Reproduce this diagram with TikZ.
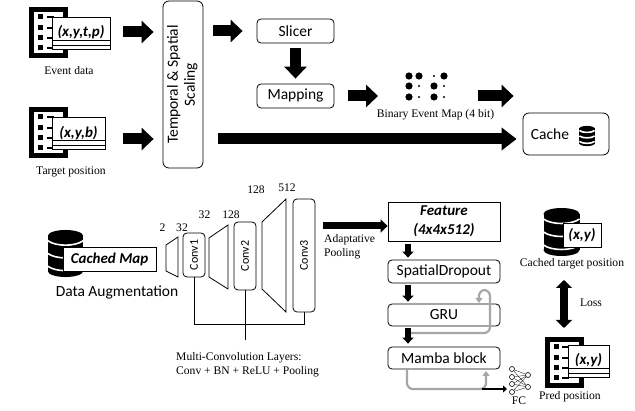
\documentclass[tikz,border=0pt]{standalone}
\usepackage{fontspec}
\setmainfont{Liberation Serif}
\newfontfamily\calibrifont{Carlito}
\usetikzlibrary{arrows.meta, calc}

\tikzset{
	softbox/.style={draw, rounded corners=4pt, line width=0.8pt, fill=white, inner sep=0pt, font=\calibrifont\fontsize{15.5}{17}\selectfont},
	convbox/.style={softbox, minimum width=22, font=\calibrifont\fontsize{12}{14}\selectfont},
	card/.style={draw, line width=0.8pt, fill=white, inner sep=0pt, font=\calibrifont\bfseries\itshape\fontsize{15}{17}\selectfont},
	caption/.style={inner sep=0pt, font=\fontsize{11.6}{14}\selectfont},
	bigarrow/.style={line width=11pt, -{Triangle[length=12pt,width=22pt]}},
	midarrow/.style={line width=7pt, -{Triangle[length=7pt,width=13pt]}},
	smallarrow/.style={line width=5.5pt, -{Triangle[length=6pt,width=11pt]}},
	grayarrow/.style={draw=black!35, line width=2.2pt, rounded corners=6pt, -{Triangle[length=5pt,width=7pt]}},
	fcdot/.style={circle, draw, fill=white, line width=0.6pt, minimum size=5, inner sep=0pt},
	docframe/.pic={
		\draw[line width=5pt] (-17,-23) rectangle (17,23);
		\foreach \y in {-16,-5,5,15} {
			\fill (-10.5,\y-2.5) rectangle (-5.5,\y+2.5);
			\fill (-2,\y-1) rectangle (5,\y+1);
		}
	},
	dbstack/.pic={
		\fill (-18,-18) rectangle (18,18);
		\fill (0,-18) ellipse (18 and 6);
		\fill (0,18) ellipse (18 and 6);
		\draw[white, line width=1.6pt] (-18,-13) .. controls (-10,-7) and (10,-7) .. (18,-13);
		\draw[white, line width=1.6pt] (-18,0) .. controls (-10,6) and (10,6) .. (18,0);
		\draw[white, line width=1.6pt] (-18,13) .. controls (-10,19) and (10,19) .. (18,13);
	}
}

\begin{document}
\begin{tikzpicture}[x=1pt, y=-1pt]

	\useasboundingbox (0,0) rectangle (635,411);

	% inputs
	\pic at (48.5,33) {docframe};
	\node[card, minimum width=58, minimum height=32] (eventcard) at (81,33) {\raisebox{4pt}{(x,y,t,p)}};
	\draw[line width=0.8pt] ($(eventcard.south west)+(0,-9)$) -- ($(eventcard.south east)+(0,-9)$);
	\draw[line width=0.8pt] ($(eventcard.south west)+(0,-4)$) -- ($(eventcard.south east)+(0,-4)$);
	\node[caption] (eventlabel) at (69,71) {Event data};

	\pic at (48.5,133) {docframe};
	\node[card, minimum width=53, minimum height=32] (targetcard) at (78.5,133.5) {\raisebox{4pt}{(x,y,b)}};
	\draw[line width=0.8pt] ($(targetcard.south west)+(0,-9)$) -- ($(targetcard.south east)+(0,-9)$);
	\draw[line width=0.8pt] ($(targetcard.south west)+(0,-4)$) -- ($(targetcard.south east)+(0,-4)$);
	\node[caption] (targetlabel) at (71,172) {Target position};

	% preprocessing
	\node[softbox, rounded corners=6pt, minimum width=40, minimum height=167] (scaling) at (183,84.5) {\rotatebox{90}{\begin{tabular}{@{}c@{}}Temporal \& Spatial\\Scaling\end{tabular}}};
	\node[softbox, minimum width=77, minimum height=24] (slicer) at (295.5,31) {Slicer};
	\node[softbox, minimum width=77, minimum height=24] (mapping) at (295.5,96) {Mapping};

	\foreach \x/\y in {409/76, 419/76, 444/76, 409/86, 434/86, 409/97, 434/97}
		\fill (\x,\y) circle (3.6);
	\foreach \x/\y in {434/76, 419/86, 444/86, 419/97, 444/97}
		\fill (\x,\y) circle (1.2);
	\coordinate (mapdots) at (426,96);
	\node[caption] (maplabel) at (435.5,115) {Binary Event Map (4 bit)};

	\node[softbox, rounded corners=6pt, minimum width=86, minimum height=42] (cache) at (566,134) {};
	\node[inner sep=0pt, font=\calibrifont\fontsize{15.5}{17}\selectfont] (cachetext) at (550,134) {Cache};
	\pic[scale=0.42] at (587,136) {dbstack};

	\draw[bigarrow, shorten <=13pt, shorten >=9pt] (eventcard.east |- 0,32) -- (scaling.west |- 0,32);
	\draw[bigarrow, shorten <=18pt, shorten >=9pt] (targetcard.east |- 0,139) -- (scaling.west |- 0,139);
	\draw[bigarrow, shorten <=10pt, shorten >=14pt] (scaling.east |- slicer.west) -- (slicer.west);
	\draw[bigarrow, shorten <=5pt, shorten >=5pt] (slicer) -- (mapping);
	\draw[bigarrow, shorten <=14pt, shorten >=48pt] (mapping.east) -- (mapdots);
	\draw[bigarrow, shorten <=52pt, shorten >=9pt] (mapdots) -- (cache.west |- mapdots);
	\draw[bigarrow, -{Triangle[length=15pt,width=22pt]}, shorten <=15pt, shorten >=6pt] (scaling.east |- 0,139) -- (cache.west |- 0,139);

	% encoder
	\pic[scale=0.98] at (65.5,253.5) {dbstack};
	\node[card, minimum width=93, minimum height=24] (cachedmap) at (109.5,259) {Cached Map};
	\node[inner sep=0pt, font=\calibrifont\fontsize{15.5}{17}\selectfont] (auglabel) at (117,292) {Data Augmentation};

	\draw[line width=0.8pt] (166,245) -- (178,237) -- (178,277) -- (166,271) -- cycle;
	\draw[line width=0.8pt] (209,238) -- (228,225) -- (228,289) -- (209,277) -- cycle;
	\draw[line width=0.8pt] (262,222) -- (286,199) -- (286,312) -- (262,289) -- cycle;

	\node[convbox, minimum height=44] (convone) at (194,255) {\rotatebox{90}{Conv1}};
	\node[convbox, minimum height=68] (convtwo) at (245,256) {\rotatebox{90}{Conv2}};
	\node[convbox, minimum height=113] (convthree) at (304,255.5) {\rotatebox{90}{Conv3}};

	\node[caption] (sizea) at (162.5,228) {2};
	\node[caption] (sizeb) at (182,228) {32};
	\node[caption] (sizec) at (204.5,215) {32};
	\node[caption] (sized) at (231,215) {128};
	\node[caption] (sizee) at (256,190) {128};
	\node[caption] (sizef) at (287,188) {512};

	\coordinate (convend) at (245,340);
	\draw[line width=0.8pt] (convone.south) -- (convone.south |- 0,324) -- (convthree.south |- 0,324) -- (convthree.south);
	\draw[line width=0.8pt] (convtwo.south) -- (convend);
	\node[caption, align=left, anchor=north west] (convlabel) at (176,352) {Multi-Convolution Layers:\\Conv + BN + ReLU + Pooling};

	% sequence part
	\node[card, minimum width=112, minimum height=39, align=center, font=\calibrifont\bfseries\itshape\fontsize{15}{18.5}\selectfont] (feature) at (444,221.5) {Feature\\(4x4x512)};
	\node[softbox, minimum width=112, minimum height=23] (dropout) at (444,271.5) {SpatialDropout};
	\node[softbox, minimum width=112, minimum height=22] (gru) at (444,315) {GRU};
	\node[softbox, minimum width=112, minimum height=22] (mamba) at (444,358) {Mamba block};

	\draw[midarrow] (convthree.east |- feature.west) ++(8,4.5) coordinate (poolstart) -- (feature.west |- poolstart);
	\node[caption, align=left, anchor=north west] (poollabel) at (324,234) {Adaptative\\Pooling};

	\coordinate (dropa) at (408,241);
	\draw[smallarrow, shorten <=3pt, shorten >=2pt] (dropa) -- (dropa |- dropout.north);
	\coordinate (dropb) at (408,283);
	\draw[smallarrow, shorten <=2pt, shorten >=2pt] (dropb) -- (dropb |- gru.north);
	\coordinate (dropc) at (408,326);
	\draw[smallarrow, shorten <=2pt, shorten >=3pt] (dropc) -- (dropc |- mamba.north);

	\coordinate (gruloop) at (411,333);
	\coordinate (grutip) at (479,303);
	\draw[grayarrow] (gruloop) -- (490,333) -- (490,290) -- (479,290) -- (grutip);
	\coordinate (mambaout) at (407,370);
	\coordinate (mambatip) at (486,371);
	\draw[grayarrow] (mambaout) -- (407,389) -- (486,389) -- (mambatip);

	% fully connected head
	\node[fcdot] (fca) at (512,369) {};
	\node[fcdot] (fcb) at (512,377) {};
	\node[fcdot] (fcc) at (512,384) {};
	\node[fcdot] (fcd) at (512,392) {};
	\node[fcdot] (fce) at (528,375) {};
	\node[fcdot] (fcf) at (528,387) {};
	\foreach \i in {fca,fcb,fcc,fcd}
		\foreach \j in {fce,fcf}
			\draw[line width=0.3pt] (\i) -- (\j);
	\node[caption] (fclabel) at (519,401) {FC};
	\coordinate (fcstart) at (482,389);
	\draw[line width=1.8pt, -{Triangle[length=4pt,width=7pt]}] (fcstart) -- (507,389);

	% loss
	\pic at (561.5,232) {dbstack};
	\node[card, minimum width=38, minimum height=24] (cachedcard) at (582,235) {(x,y)};
	\node[caption] (cachedlabel) at (572,264) {Cached target position};

	\pic at (564,363) {docframe};
	\node[card, minimum width=41, minimum height=32] (predcard) at (588.5,361) {\raisebox{4pt}{(x,y)}};
	\draw[line width=0.8pt] ($(predcard.south west)+(0,-9)$) -- ($(predcard.south east)+(0,-9)$);
	\draw[line width=0.8pt] ($(predcard.south west)+(0,-4)$) -- ($(predcard.south east)+(0,-4)$);
	\node[caption] (predlabel) at (570,397) {Pred position};

	\coordinate (losstop) at (564,280);
	\coordinate (lossbottom) at (564,328);
	\draw[line width=8pt, {Triangle[length=8pt,width=16pt]}-{Triangle[length=8pt,width=16pt]}] (losstop) -- (lossbottom);
	\node[caption] (losslabel) at (591,303) {Loss};

\end{tikzpicture}
\end{document}
